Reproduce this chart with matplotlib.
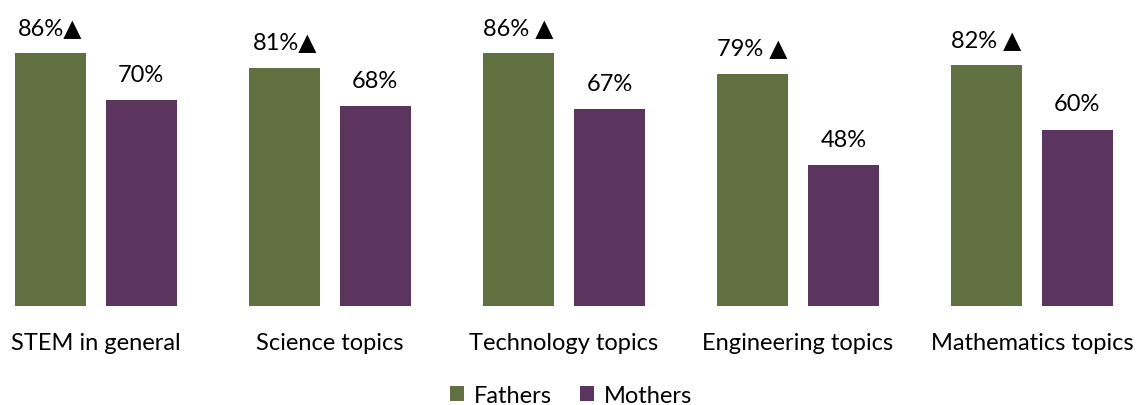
import numpy as np
import matplotlib.pyplot as plt

categories = ["STEM in general", "Science topics", "Technology topics",
              "Engineering topics", "Mathematics topics"]
fathers = [86, 81, 86, 79, 82]
mothers = [70, 68, 67, 48, 60]
father_labels = ["86%\u25B2", "81%\u25B2", "86% \u25B2", "79% \u25B2", "82% \u25B2"]
mother_labels = [f"{v}%" for v in mothers]

GREEN = "#607040"
PURPLE = "#5C355E"

plt.rcParams["font.family"] = ["Lato", "DejaVu Sans"]

fig = plt.figure(figsize=(11.42, 4.06), dpi=100)
ax = fig.add_axes([0, 99 / 406, 1, 307 / 406])

x = np.arange(len(categories))
w = 0.303
off = 0.194
b1 = ax.bar(x - off, fathers, w, color=GREEN, label="Fathers")
b2 = ax.bar(x + off, mothers, w, color=PURPLE, label="Mothers")

for rect, txt in zip(b1, father_labels):
    ax.annotate(txt, (rect.get_x() + rect.get_width() / 2, rect.get_height()),
                xytext=(0, 11), textcoords="offset points",
                ha="center", va="bottom", fontsize=17)
for rect, txt in zip(b2, mother_labels):
    ax.annotate(txt, (rect.get_x() + rect.get_width() / 2, rect.get_height()),
                xytext=(0, 11), textcoords="offset points",
                ha="center", va="bottom", fontsize=17)

ax.set_xlim(-0.41, 4.47)
ax.set_ylim(0, 104.4)
ax.set_xticks(x)
ax.set_xticklabels(categories, fontsize=17)
ax.tick_params(axis="x", length=0, pad=19)
ax.set_yticks([])
for s in ax.spines.values():
    s.set_visible(False)

fig.legend(handles=[b1, b2], loc="lower center", bbox_to_anchor=(0.5, -0.055),
           ncol=2, frameon=False, fontsize=17, handlelength=0.6,
           handleheight=0.6, handletextpad=0.4, columnspacing=1.2)

fig.savefig("out.png", dpi=100)
